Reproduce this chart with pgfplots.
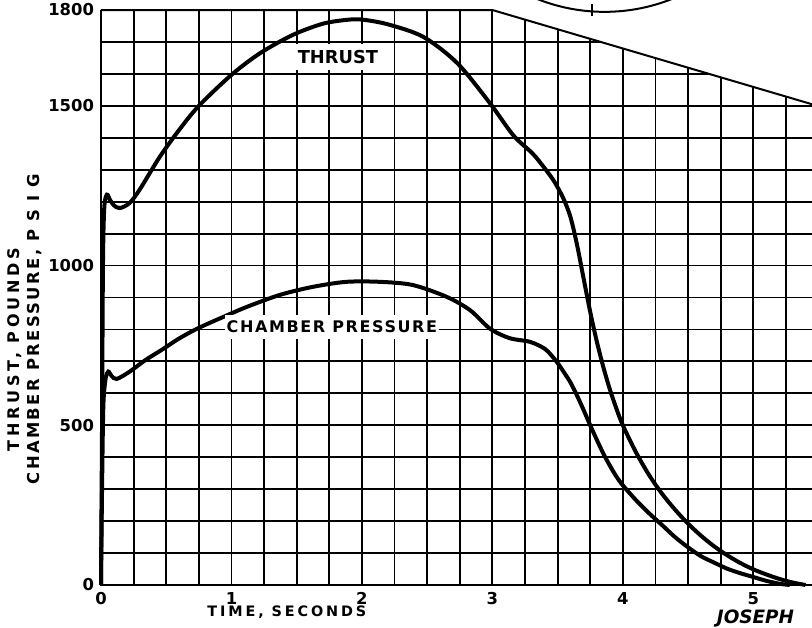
\documentclass[border=0pt]{standalone}
\usepackage{fontspec}
\usepackage{pgfplots}
\pgfplotsset{compat=1.18}
\newfontfamily\tickfont{DejaVu Sans}
\newfontfamily\lblA[LetterSpace=24]{DejaVu Sans}
\newfontfamily\lblB[LetterSpace=14.5]{DejaVu Sans}
\newfontfamily\lblC[LetterSpace=10]{DejaVu Sans}
\newfontfamily\lblD[LetterSpace=20]{DejaVu Sans}
\begin{document}
\begin{tikzpicture}
\begin{axis}[
  name=ax,
  scale only axis,
  width=355.5pt, height=287.5pt,
  xmin=0, xmax=5.45, ymin=0, ymax=1800,
  clip=false,
  axis line style={draw=none},
  xtick={0,1,2,3,4,5}, xticklabels={0,1,2,3,4,5},
  ytick={0,500,1000,1500,1800}, yticklabels={0,500,1000,1500,1800},
  minor xtick={0.25,0.5,0.75,1.25,1.5,1.75,2.25,2.5,2.75,3.25,3.5,3.75,4.25,4.5,4.75,5.25},
  minor ytick={100,200,300,400,600,700,800,900,1100,1200,1300,1400,1600,1700},
  grid=both,
  major grid style={black, line width=0.9pt},
  minor grid style={black, line width=0.9pt},
  major tick length=0pt, minor tick length=0pt,
  tick label style={font=\tickfont\bfseries\fontsize{8.2}{9}\selectfont},
]
% blank the grid above the sloping top edge
\fill[white] (axis cs:3,1800) -- (axis cs:5.45,1505) -- (axis cs:5.6,1505) -- (axis cs:5.6,1850) -- (axis cs:3,1850) -- cycle;
% frame
\draw[line width=1.4pt] (axis cs:0,1800) -- (axis cs:0,0) -- (axis cs:5.45,0);
\draw[line width=1pt] (axis cs:0,1800) -- (axis cs:3,1800) -- (axis cs:5.45,1505);
% logo arc at top right
\draw[line width=1pt] (axis cs:3.86,2364) circle[radius=91pt];
\draw[line width=1pt] (axis cs:3.76,1780) -- (axis cs:3.76,1820);

% THRUST
\addplot[line width=2pt, smooth] coordinates {
(0,0) (0.008,500) (0.015,1000) (0.025,1180) (0.045,1222) (0.07,1205) (0.1,1188)
(0.145,1180) (0.22,1196) (0.3,1240) (0.45,1340) (0.6,1425) (0.75,1500)
(1.0,1597) (1.22,1665) (1.47,1722) (1.7,1757) (1.88,1769) (2.0,1770)
(2.2,1755) (2.47,1716) (2.73,1634) (2.98,1509) (3.16,1408) (3.31,1350)
(3.4,1305) (3.46,1272) (3.5,1245) (3.55,1205) (3.6,1150) (3.65,1063)
(3.7,958) (3.75,855) (3.8,763) (3.85,683) (3.9,613) (3.95,553) (4.0,500)
(4.1,416) (4.2,345) (4.3,286) (4.4,236) (4.5,192) (4.6,154) (4.7,121)
(4.8,93) (4.9,69) (5.0,49) (5.1,33) (5.2,19) (5.3,8) (5.4,0)
};
% CHAMBER PRESSURE
\addplot[line width=2pt, smooth] coordinates {
(0,0) (0.008,300) (0.018,560) (0.035,645) (0.056,668) (0.08,655) (0.12,645)
(0.22,668) (0.34,704) (0.465,736) (0.6,772) (0.75,805) (0.97,845)
(1.12,871) (1.37,908) (1.62,933) (1.88,949) (2.14,949) (2.39,939)
(2.65,902) (2.83,860) (2.98,803) (3.13,773) (3.29,761) (3.4,740)
(3.45,720) (3.5,695) (3.55,665) (3.6,633) (3.65,592) (3.7,547) (3.75,500)
(3.8,455) (3.85,412) (3.9,374) (3.95,340) (4.0,312) (4.1,266) (4.2,225)
(4.3,188) (4.4,150) (4.5,118) (4.6,90) (4.7,70) (4.8,51) (4.9,37)
(5.0,25) (5.1,13) (5.2,4) (5.28,0)
};

\node[fill=white, inner xsep=1pt, inner ysep=3pt, font=\tickfont\bfseries\fontsize{8.9}{10}\selectfont] at (axis cs:1.816,1653) {THRUST};
\node[fill=white, inner xsep=1pt, inner ysep=3pt, font=\lblC\bfseries\fontsize{8}{9}\selectfont] at (axis cs:1.77,808) {CHAMBER PRESSURE};
\node[rotate=90, font=\lblA\bfseries\fontsize{8}{9}\selectfont] at (axis cs:-0.659,737) {THRUST, POUNDS};
\node[rotate=90, font=\lblB\bfseries\fontsize{8.2}{9}\selectfont] at (axis cs:-0.506,801) {CHAMBER PRESSURE, P S I G};
\node[font=\lblD\bfseries\fontsize{7.2}{8}\selectfont] at (axis cs:1.425,-84.5) {TIME, SECONDS};
\node[anchor=base west, font=\tickfont\bfseries\itshape\fontsize{9.2}{10}\selectfont] at (axis cs:4.667,-122) {JOSEPH};
\end{axis}
\pgfresetboundingbox
\useasboundingbox ([xshift=-50.5pt,yshift=-21.5pt]ax.south west) rectangle ([yshift=5pt]ax.north east);
\end{tikzpicture}
\end{document}
